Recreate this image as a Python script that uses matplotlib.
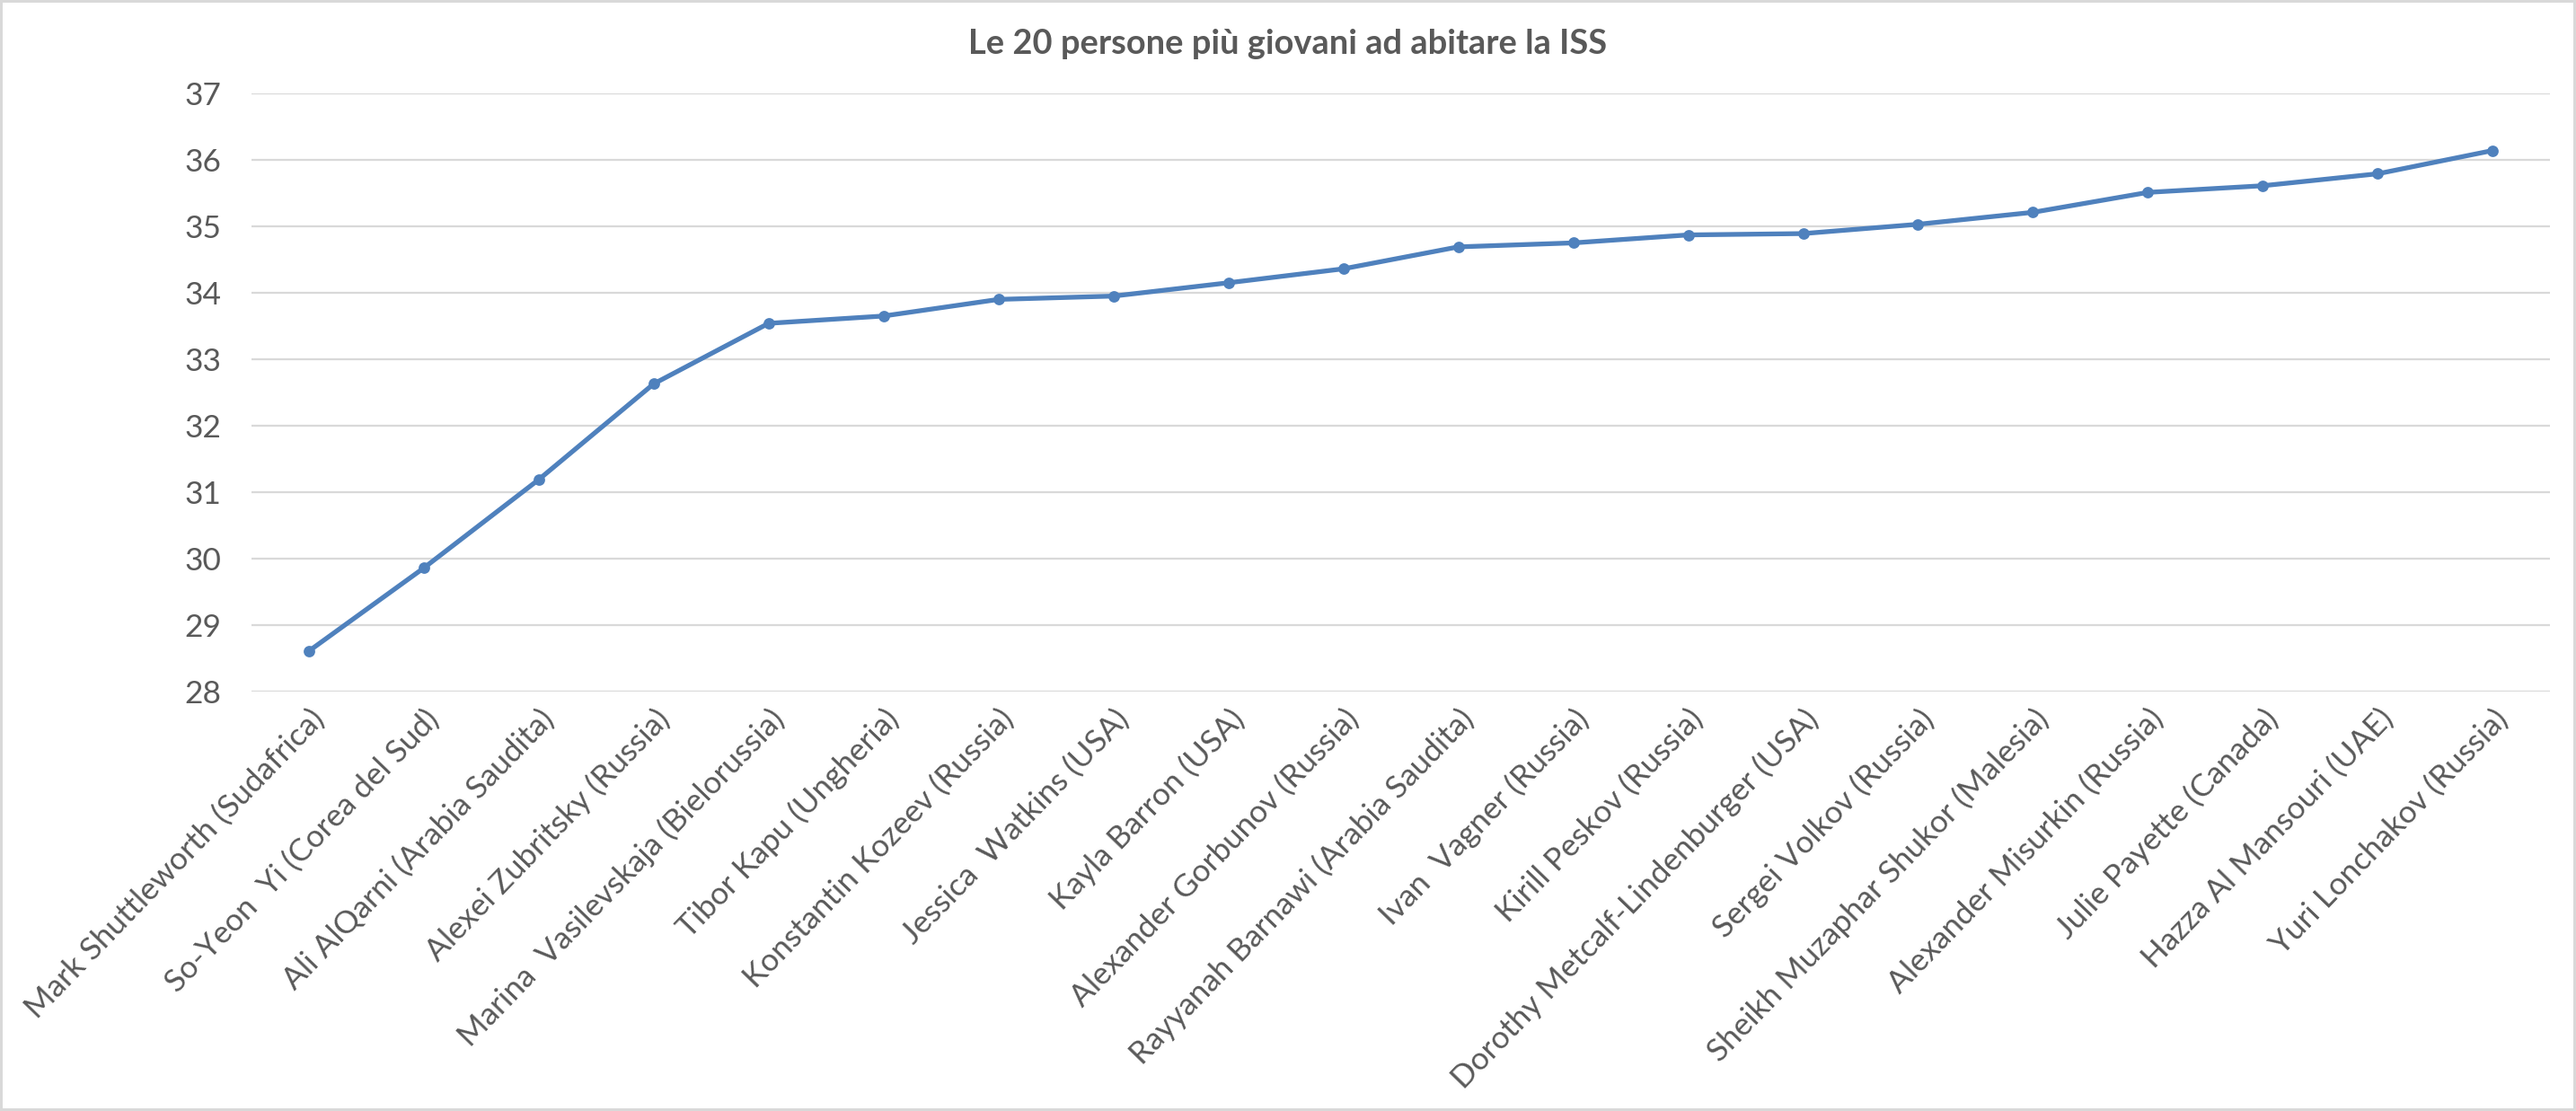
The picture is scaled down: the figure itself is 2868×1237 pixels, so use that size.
import numpy as np
import matplotlib
matplotlib.use("Agg")
import matplotlib.pyplot as plt

plt.rcParams['font.family'] = ['Lato', 'DejaVu Sans']

# data
names = [
    "Mark Shuttleworth (Sudafrica)", "So-Yeon  Yi (Corea del Sud)",
    "Ali AlQarni (Arabia Saudita)", "Alexei Zubritsky (Russia)",
    "Marina  Vasilevskaja (Bielorussia)", "Tibor Kapu (Ungheria)",
    "Konstantin Kozeev (Russia)", "Jessica  Watkins (USA)",
    "Kayla Barron (USA)", "Alexander Gorbunov (Russia)",
    "Rayyanah Barnawi (Arabia Saudita)", "Ivan  Vagner (Russia)",
    "Kirill Peskov (Russia)", "Dorothy Metcalf-Lindenburger (USA)",
    "Sergei Volkov (Russia)", "Sheikh Muzaphar Shukor (Malesia)",
    "Alexander Misurkin (Russia)", "Julie Payette (Canada)",
    "Hazza Al Mansouri (UAE)", "Yuri Lonchakov (Russia)",
]
ages = [28.61, 29.86, 31.19, 32.63, 33.54, 33.65, 33.90, 33.95, 34.15, 34.36,
        34.69, 34.75, 34.87, 34.89, 35.03, 35.21, 35.51, 35.61, 35.79, 36.14]
yticks = [28, 29, 30, 31, 32, 33, 34, 35, 36, 37]

grey = '#595959'
blue = '#4F81BD'

fig = plt.figure(figsize=(14.34, 6.185), dpi=200)
fig.patch.set_edgecolor('#D9D9D9')
fig.patch.set_linewidth(1.5)
ax = fig.add_axes([0.0976, 0.3775, 0.8924, 0.5385])

x = np.arange(len(names))
ax.plot(x, ages, color=blue, lw=1.9, marker='o', ms=3.6, zorder=3)

ax.set_xlim(-0.5, len(names) - 0.5)
ax.set_ylim(28, 37)
ax.set_yticks(yticks)
ax.yaxis.grid(True, color='#D9D9D9', lw=0.8)
ax.set_axisbelow(True)
for s in ax.spines.values():
    s.set_visible(False)

ax.set_xticks(x)
ax.set_xticklabels(names, rotation=46, ha='right', rotation_mode='anchor',
                   fontsize=12.6, color=grey)
ax.tick_params(axis='x', length=0, pad=5)
ax.tick_params(axis='y', length=0, pad=12, labelsize=12.7, labelcolor=grey)

fig.text(0.5, 0.96, "Le 20 persone più giovani ad abitare la ISS",
         ha='center', va='center', fontsize=13.7, fontweight='bold', color=grey)

fig.savefig('out.png', dpi=200)
